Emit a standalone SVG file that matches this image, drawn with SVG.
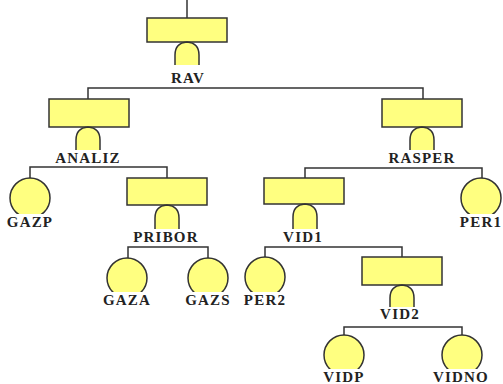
<svg xmlns="http://www.w3.org/2000/svg" width="503" height="384" viewBox="0 0 503 384">
<defs>
<style>
.box{fill:#FFFF80;stroke:#333;stroke-width:1.5}
.gate{fill:#FFFF80;stroke:#333;stroke-width:1.5}
.ev{fill:#FFFF80;stroke:#333;stroke-width:1.5}
.bg{fill:#fff;stroke:none}
.lbl{font-family:"Liberation Serif",serif;font-weight:bold;font-size:15px;letter-spacing:1.2px;fill:#222;text-anchor:middle}
.conn{fill:none;stroke:#333;stroke-width:1.5}
</style>
</defs>
<rect width="503" height="384" fill="#fff"/>
<g id="connectors" class="conn">
<path d="M187,0V18"/>
<path d="M88,99V88H423V99"/>
<path d="M30,178V167H167V178"/>
<path d="M128,258V247H208V258"/>
<path d="M305,178V168H482V178"/>
<path d="M265,257V247H402V257"/>
<path d="M344,335V327H462V335"/>
</g>
<g id="RAV">
<rect class="box" x="147" y="18" width="80" height="24"/>
<path class="gate" d="M175,65V55Q175,43 187,42Q199,43 199,55V65"/>
<text class="lbl" x="188" y="83">RAV</text>
</g>
<g id="ANALIZ">
<rect class="box" x="49" y="99" width="80" height="28"/>
<path class="gate" d="M76,150V140Q76,128 88,127Q100,128 100,140V150"/>
<text class="lbl" x="88" y="163">ANALIZ</text>
</g>
<g id="RASPER">
<rect class="box" x="382" y="99" width="80" height="28"/>
<path class="gate" d="M410,150V140Q410,128 422,127Q434,128 434,140V150"/>
<text class="lbl" x="422" y="163">RASPER</text>
</g>
<g id="GAZP">
<circle class="ev" cx="30" cy="198" r="20"/>
<rect class="bg" x="6" y="214" width="48" height="15"/>
<text class="lbl" x="30" y="227">GAZP</text>
</g>
<g id="PRIBOR">
<rect class="box" x="127" y="178" width="80" height="27"/>
<path class="gate" d="M155,229V218Q155,206 167,205Q179,206 179,218V229"/>
<text class="lbl" x="166" y="242">PRIBOR</text>
</g>
<g id="GAZA">
<circle class="ev" cx="127" cy="278" r="20"/>
<rect class="bg" x="103" y="292" width="48" height="15"/>
<text class="lbl" x="127" y="305">GAZA</text>
</g>
<g id="GAZS">
<circle class="ev" cx="208" cy="278" r="20"/>
<rect class="bg" x="184" y="292" width="48" height="15"/>
<text class="lbl" x="208" y="305">GAZS</text>
</g>
<g id="PER1">
<circle class="ev" cx="481" cy="198" r="20"/>
<rect class="bg" x="457" y="214" width="46" height="15"/>
<text class="lbl" x="481" y="227">PER1</text>
</g>
<g id="VID1">
<rect class="box" x="264" y="178" width="80" height="26"/>
<path class="gate" d="M293,229V217Q293,205 305,204Q317,205 317,217V229"/>
<text class="lbl" x="303" y="242">VID1</text>
</g>
<g id="PER2">
<circle class="ev" cx="265" cy="277" r="20"/>
<rect class="bg" x="241" y="292" width="48" height="15"/>
<text class="lbl" x="265" y="305">PER2</text>
</g>
<g id="VID2">
<rect class="box" x="362" y="257" width="80" height="28"/>
<path class="gate" d="M390,307V298Q390,286 402,285Q414,286 414,298V307"/>
<text class="lbl" x="400" y="319">VID2</text>
</g>
<g id="VIDP">
<circle class="ev" cx="344" cy="355" r="20"/>
<rect class="bg" x="320" y="369" width="48" height="15"/>
<text class="lbl" x="344" y="382">VIDP</text>
</g>
<g id="VIDNO">
<circle class="ev" cx="462" cy="355" r="20"/>
<rect class="bg" x="432" y="369" width="60" height="15"/>
<text class="lbl" x="461" y="382">VIDNO</text>
</g>
</svg>
